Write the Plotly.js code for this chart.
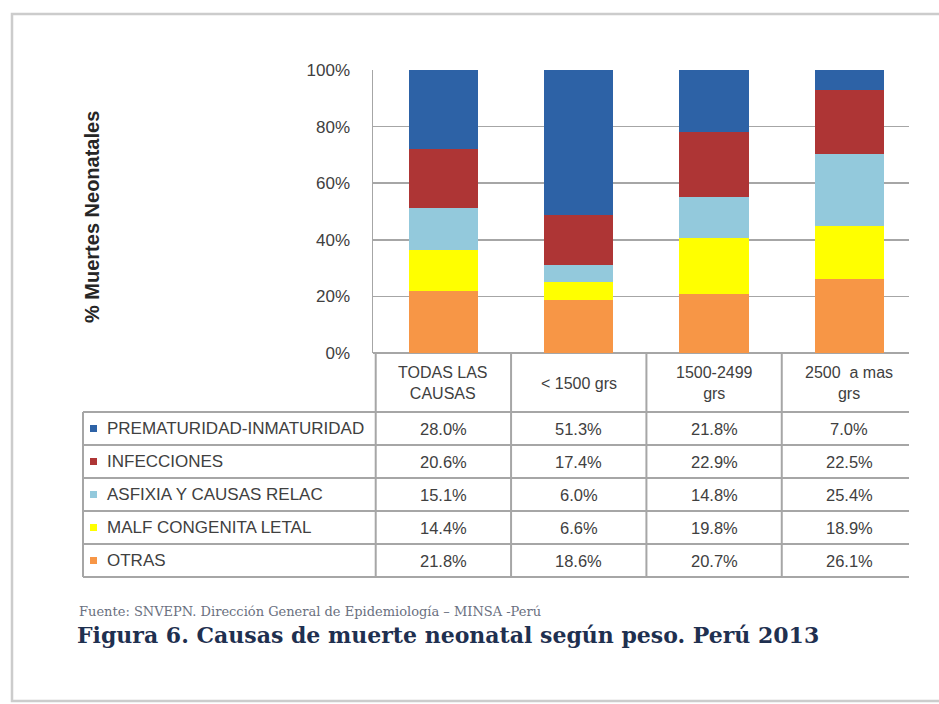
<!DOCTYPE html>
<html><head><meta charset="utf-8">
<script src="https://cdn.plot.ly/plotly-3.0.1.min.js"></script>
<style>html,body{margin:0;padding:0;background:#fff}</style>
</head><body><div id="chart" style="width:939px;height:704px"></div>
<script>
// ---- data ----
const categories = ['TODAS LAS CAUSAS', '< 1500 grs', '1500-2499 grs', '2500 a mas grs'];
const headerLabels = ['TODAS LAS<br>CAUSAS', '&lt; 1500 grs', '1500-2499<br>grs', '2500\u00a0\u00a0a mas<br>grs'];
const seriesNames = ['PREMATURIDAD-INMATURIDAD', 'INFECCIONES', 'ASFIXIA Y CAUSAS RELAC', 'MALF CONGENITA LETAL', 'OTRAS'];
const prematuridad = [28.0, 51.3, 21.8, 7.0];
const infecciones = [20.6, 17.4, 22.9, 22.5];
const asfixia = [15.1, 6.0, 14.8, 25.4];
const malfCongenita = [14.4, 6.6, 19.8, 18.9];
const otras = [21.8, 18.6, 20.7, 26.1];
const yTickVals = [0, 20, 40, 60, 80, 100];
const yTickText = ['0%', '20%', '40%', '60%', '80%', '100%'];
const yTitle = '% Muertes Neonatales';
const sourceText = 'Fuente: SNVEPN. Dirección General de Epidemiología – MINSA -Perú';
const captionText = 'Figura 6. Causas de muerte neonatal según peso. Perú 2013';

// ---- styles ----
const seriesValues = [prematuridad, infecciones, asfixia, malfCongenita, otras];
const seriesColors = ['#2d62a6', '#ae3535', '#93c9dc', '#ffff00', '#f79646'];
const W = 939, H = 704;
const L = 373, R = 909, T = 70, B = 353;
const xRange = [-0.52, 3.44];
const px = p => (p - L) / (R - L);
const py = p => (B - p) / (B - T);
const xd2paper = d => (d - xRange[0]) / (xRange[1] - xRange[0]);
const gridCol = '#a6a6a6';
const textCol = '#404040';
const font = 'Liberation Sans, Arial, sans-serif';

// stacked bottom-to-top: reverse of table order
const traces = [];
for (let i = seriesNames.length - 1; i >= 0; i--) {
  traces.push({
    type: 'bar', name: seriesNames[i], x: categories, y: seriesValues[i],
    marker: {color: seriesColors[i], line: {width: 0}}, hoverinfo: 'name+y'
  });
}

const shapes = [];
const annotations = [];
// outer frame
shapes.push({type: 'rect', xref: 'paper', yref: 'paper', x0: px(12), x1: px(960), y0: py(14), y1: py(701),
  line: {color: '#cccccc', width: 2.5}, fillcolor: 'rgba(0,0,0,0)', layer: 'below'});

// table geometry
const rowTop = 412, rowH = 33, tableLeft = 83;
for (let r = 0; r <= seriesNames.length; r++) {
  const y = rowTop + r * rowH;
  shapes.push({type: 'line', xref: 'paper', yref: 'paper', x0: px(tableLeft), x1: 1, y0: py(y), y1: py(y),
    line: {color: gridCol, width: 2}});
}
shapes.push({type: 'line', xref: 'paper', yref: 'paper', x0: px(tableLeft), x1: px(tableLeft),
  y0: py(rowTop), y1: py(rowTop + seriesNames.length * rowH), line: {color: gridCol, width: 2}});
for (let j = 0; j < categories.length; j++) {
  const xb = Math.max(xd2paper(j - 0.5), 0);
  shapes.push({type: 'line', xref: 'paper', yref: 'paper', x0: xb, x1: xb,
    y0: py(B), y1: py(rowTop + seriesNames.length * rowH), line: {color: gridCol, width: 2}});
}
// header labels
categories.forEach((c, j) => {
  annotations.push({xref: 'x', yref: 'paper', x: c, y: py(383), text: headerLabels[j], showarrow: false,
    xanchor: 'center', yanchor: 'middle', font: {family: font, size: 16, color: textCol}});
});
// rows
seriesNames.forEach((name, i) => {
  const yc = rowTop + (i + 0.5) * rowH;
  shapes.push({type: 'rect', xref: 'paper', yref: 'paper', x0: px(90), x1: px(97), y0: py(yc - 3.5), y1: py(yc + 3.5),
    line: {width: 0}, fillcolor: seriesColors[i]});
  annotations.push({xref: 'paper', yref: 'paper', x: px(105), y: py(yc), text: name, showarrow: false,
    xanchor: 'left', yanchor: 'middle', font: {family: font, size: 17, color: textCol}});
  seriesValues[i].forEach((v, j) => {
    annotations.push({xref: 'x', yref: 'paper', x: categories[j], y: py(yc), text: v.toFixed(1) + '%', showarrow: false,
      xanchor: 'center', yanchor: 'middle', font: {family: font, size: 16.5, color: textCol}});
  });
});
// y title
annotations.push({xref: 'paper', yref: 'paper', x: px(92), y: py(217), text: '<b>' + yTitle + '</b>', textangle: -90,
  showarrow: false, xanchor: 'center', yanchor: 'middle', font: {family: font, size: 20, color: '#262626'}});
// source
annotations.push({xref: 'paper', yref: 'paper', x: px(77), y: py(611), text: sourceText, showarrow: false,
  xanchor: 'left', yanchor: 'middle', font: {family: 'DejaVu Serif, serif', size: 13, color: '#6a7080'}});

const layout = {
  width: W, height: H,
  margin: {l: L, r: W - R, t: T, b: H - B, pad: 0},
  paper_bgcolor: '#ffffff', plot_bgcolor: '#ffffff',
  barmode: 'stack', barnorm: 'percent', bargap: 0.487,
  showlegend: false,
  title: {text: '<b>' + captionText + '</b>', xref: 'container', yref: 'container', x: 77 / W, xanchor: 'left',
    y: 1 - 635 / H, yanchor: 'middle', font: {family: 'DejaVu Serif, serif', size: 22, color: '#1f3050'}},
  xaxis: {type: 'category', range: xRange, showticklabels: false, showgrid: false, zeroline: false, showline: false, ticks: ''},
  yaxis: {range: [0, 100], tickvals: yTickVals, ticktext: yTickText, showgrid: true, gridcolor: gridCol, gridwidth: 1.5,
    zeroline: true, zerolinecolor: gridCol, zerolinewidth: 1.5, showline: true, linecolor: gridCol, linewidth: 1.5,
    ticks: '', ticklabelstandoff: 18, tickfont: {family: font, size: 17, color: textCol}},
  shapes: shapes, annotations: annotations
};
Plotly.newPlot('chart', traces, layout, {displayModeBar: false, staticPlot: true});
</script></body></html>
